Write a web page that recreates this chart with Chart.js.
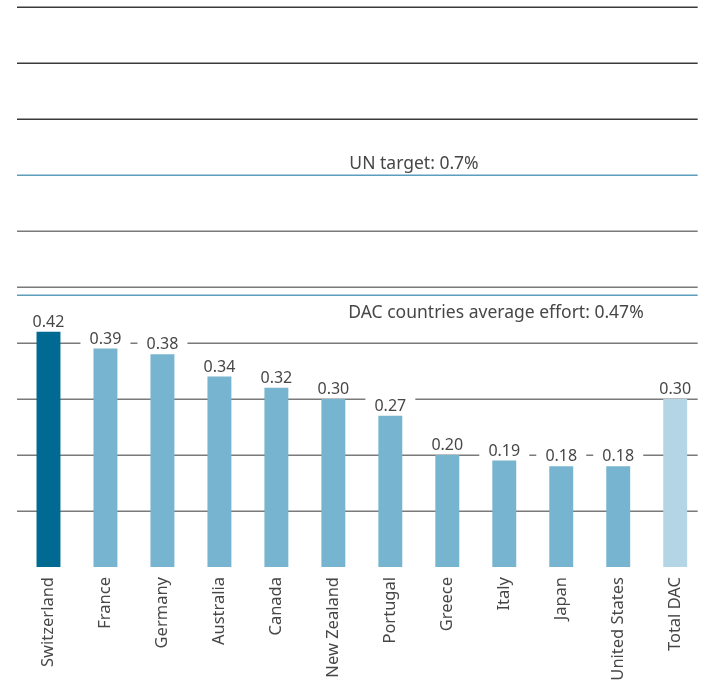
<!DOCTYPE html>
<html>
<head>
<meta charset="utf-8">
<script src="https://cdn.jsdelivr.net/npm/chart.js@4"></script>
<style>
  body { margin: 0; background: #fff; }
  #wrap { width: 705px; height: 685px; }
</style>
</head>
<body>
<div id="wrap"><canvas id="odaChart" width="705" height="685"></canvas></div>
<script>
// ODA as % of GNI
const countries = ['Switzerland', 'France', 'Germany', 'Australia', 'Canada', 'New Zealand',
                   'Portugal', 'Greece', 'Italy', 'Japan', 'United States', 'Total DAC'];
const values = [0.42, 0.39, 0.38, 0.34, 0.32, 0.30, 0.27, 0.20, 0.19, 0.18, 0.18, 0.30];
const gridTicks = [0.1, 0.2, 0.3, 0.4, 0.5, 0.6, 0.8, 0.9, 1.0];
const unTarget = 0.7;
const dacAverageLine = 0.486; // where the line sits in the picture
const unLabel = 'UN target: 0.7%';
const dacLabel = 'DAC countries average effort: 0.47%';

const textColor = '#474747';
const lineBlue = '#5c9fbc';

const barColors = countries.map((c, i) => {
    if (i === 0) return '#006a93';
    if (c === 'Total DAC') return '#b4d5e6';
    return '#77b4d0';
});

// gridlines, reference lines and white boxes behind the value labels
const backdrop = {
    id: 'backdrop',
    beforeDatasetsDraw(chart) {
        const ctx = chart.ctx;
        const area = chart.chartArea;
        const y = chart.scales.y;
        const x0 = area.left - 3, x1 = area.right - 6;
        ctx.save();
        ctx.lineWidth = 1.5;
        gridTicks.forEach(v => {
            ctx.strokeStyle = v > unTarget ? '#3a3a3a' : '#7a7a7a';
            const py = Math.round(y.getPixelForValue(v)) + 0.25;
            ctx.beginPath(); ctx.moveTo(x0, py); ctx.lineTo(x1, py); ctx.stroke();
        });
        ctx.strokeStyle = lineBlue;
        [unTarget, dacAverageLine].forEach(v => {
            const py = Math.round(y.getPixelForValue(v)) + 0.25;
            ctx.beginPath(); ctx.moveTo(x0, py); ctx.lineTo(x1, py); ctx.stroke();
        });

        ctx.fillStyle = textColor;
        ctx.font = '17.5px "Noto Sans"';
        ctx.textAlign = 'center';
        ctx.textBaseline = 'alphabetic';
        ctx.fillText(unLabel, 414, y.getPixelForValue(unTarget) - 6);
        ctx.fillText(dacLabel, 496, y.getPixelForValue(dacAverageLine) + 23);

        ctx.fillStyle = '#fff';
        chart.getDatasetMeta(0).data.forEach(bar => {
            ctx.fillRect(bar.x - 25, bar.y - 21, 50, 20);
        });
        ctx.restore();
    },
    afterDatasetsDraw(chart) {
        const ctx = chart.ctx;
        ctx.save();
        ctx.fillStyle = textColor;
        ctx.font = '16px "Noto Sans"';
        ctx.textAlign = 'center';
        ctx.textBaseline = 'alphabetic';
        chart.getDatasetMeta(0).data.forEach((bar, i) => {
            ctx.fillText(values[i].toFixed(2), bar.x, bar.y - 5);
        });
        ctx.restore();
    }
};

new Chart(document.getElementById('odaChart'), {
    type: 'bar',
    data: {
        labels: countries,
        datasets: [{
            data: values,
            backgroundColor: barColors,
            borderWidth: 0,
            categoryPercentage: 1,
            barPercentage: 0.42
        }]
    },
    options: {
        responsive: false,
        animation: false,
        layout: { padding: { left: 20, right: 0, top: 7, bottom: 0 } },
        plugins: { legend: { display: false }, tooltip: { enabled: false } },
        scales: {
            x: {
                grid: { display: false, drawTicks: false },
                border: { display: false },
                ticks: {
                    minRotation: 90, maxRotation: 90, padding: 10,
                    color: textColor,
                    font: { family: 'Noto Sans', size: 16.5 }
                },
                afterFit(scale) { scale.height = 118; }
            },
            y: { display: false, min: 0, max: 1.0 }
        }
    },
    plugins: [backdrop]
});
</script>
</body>
</html>
